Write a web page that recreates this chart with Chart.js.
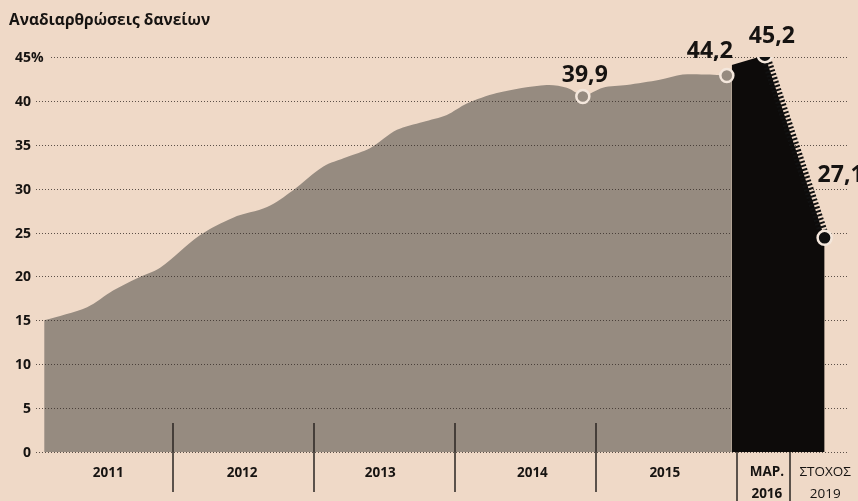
<!DOCTYPE html>
<html>
<head>
<meta charset="utf-8">
<script src="https://cdn.jsdelivr.net/npm/chart.js@4.4.1/dist/chart.umd.min.js"></script>
<style>
  html, body { margin: 0; padding: 0; background: #efd9c7; }
  #wrap { width: 858px; height: 501px; position: relative; }
</style>
</head>
<body>
<div id="wrap"><canvas id="chart" width="858" height="501"></canvas></div>
<script>
// restructured loans, %
var periods = [2011.085, 2011.39, 2011.574, 2011.745, 2011.908, 2012.19, 2012.426, 2012.667, 2012.85,
               2013.064, 2013.234, 2013.397, 2013.589, 2013.773, 2013.943, 2014.085, 2014.298, 2014.652,
               2014.794, 2014.865, 2014.908, 2015.05, 2015.22, 2015.454, 2015.617, 2015.809, 2015.929, 2015.965];
var shares = [15.0, 16.5, 18.4, 19.8, 21.0, 24.7, 26.7, 27.9, 29.8,
              32.5, 33.6, 34.6, 36.7, 37.6, 38.4, 39.7, 40.9, 41.8,
              41.5, 40.9, 40.5, 41.5, 41.8, 42.4, 43.0, 43.0, 42.9, 43.2];

// MAP. 2016 -> target 2019
var targetX = [2015.965, 2016.2, 2016.624];
var targetY = [44.1, 45.2, 24.4];
var slopeX = [2016.2, 2016.624];
var slopeY = [45.2, 24.4];

// highlighted points
var markerX = [2014.908, 2015.93, 2016.2, 2016.624];
var markerY = [40.5, 42.9, 45.2, 24.4];
var markerText = ['39,9', '44,2', '45,2', '27,1'];
var markerDark = [false, false, true, true];

var yTicks = [0, 5, 10, 15, 20, 25, 30, 35, 40, 45];
var yearLabels = ['2011', '2012', '2013', '2014', '2015'];
var yearMid = [2011.54, 2012.49, 2013.47, 2014.55, 2015.49];
var yearBreaks = [2012, 2013, 2014, 2015];
var lastBreaks = [2016.0, 2016.38];
var lastLabels = [['ΜΑΡ.', '2016'], ['ΣΤΟΧΟΣ', '2019']];
var lastMid = [2016.2, 2016.6];

var GRAY = '#968b80';
var FONT = '"Open Sans", "DejaVu Sans", sans-serif';

function pts(xs, ys) {
  var out = [];
  for (var i = 0; i < xs.length; i++) out.push({x: xs[i], y: ys[i]});
  return out;
}

// label offsets in px relative to marker (x shift, baseline shift, align)
var labelPos = [[2, -15, 'center'], [-17, -17, 'center'], [7, -12, 'center'], [-7, -56, 'left']];

var decorPlugin = {
  id: 'decor',
  afterDatasetDraw: function(chart, args) {
    // dotted grid over the grey area, under the black one
    if (args.index !== 3) return;
    var ctx = chart.ctx, ys = chart.scales.y;
    ctx.save();
    ctx.strokeStyle = 'rgba(55,45,40,0.8)';
    ctx.lineWidth = 1;
    ctx.setLineDash([1, 2]);
    yTicks.forEach(function(v) {
      var y = Math.round(ys.getPixelForValue(v)) + 0.5;
      ctx.beginPath();
      ctx.moveTo(v === 45 ? 51 : 36, y);
      ctx.lineTo(848, y);
      ctx.stroke();
    });
    ctx.restore();
  },
  afterDraw: function(chart) {
    var ctx = chart.ctx, xs = chart.scales.x, ys = chart.scales.y;
    ctx.save();
    ctx.fillStyle = '#161311';
    ctx.textBaseline = 'alphabetic';

    // title
    ctx.font = 'bold 15.5px ' + FONT;
    ctx.textAlign = 'left';
    ctx.fillText('Αναδιαρθρώσεις δανείων', 9, 25);

    // y labels
    ctx.font = 'bold 14px ' + FONT;
    yTicks.forEach(function(v) {
      var y = ys.getPixelForValue(v) + 5;
      ctx.textAlign = 'right';
      ctx.fillText(String(v), 31, y);
      if (v === 45) {
        ctx.textAlign = 'left';
        ctx.fillText('%', 31, y);
      }
    });

    // year separators
    ctx.strokeStyle = '#2a2522';
    ctx.lineWidth = 1.5;
    yearBreaks.forEach(function(v) {
      var x = Math.round(xs.getPixelForValue(v));
      ctx.beginPath();
      ctx.moveTo(x, 423);
      ctx.lineTo(x, 492);
      ctx.stroke();
    });
    lastBreaks.forEach(function(v) {
      var x = Math.round(xs.getPixelForValue(v));
      ctx.beginPath();
      ctx.moveTo(x, 452);
      ctx.lineTo(x, 501);
      ctx.stroke();
    });

    // year labels
    ctx.textAlign = 'center';
    ctx.font = 'bold 13.5px ' + FONT;
    yearLabels.forEach(function(t, i) {
      ctx.fillText(t, xs.getPixelForValue(yearMid[i]), 477);
    });
    lastLabels.forEach(function(t, i) {
      ctx.font = (i === 0 ? 'bold ' : '') + '13.5px ' + FONT;
      var x = xs.getPixelForValue(lastMid[i]);
      ctx.fillText(t[0], x + (i === 0 ? 2 : 4), 476);
      ctx.fillText(t[1], x + (i === 0 ? 2 : 4), 498);
    });

    // value labels
    ctx.font = 'bold 23px ' + FONT;
    markerText.forEach(function(t, i) {
      var p = labelPos[i];
      ctx.textAlign = p[2];
      ctx.fillText(t, xs.getPixelForValue(markerX[i]) + p[0], ys.getPixelForValue(markerY[i]) + p[1]);
    });
    ctx.restore();
  }
};

var ctx = document.getElementById('chart');
var myChart = new Chart(ctx, {
  type: 'line',
  data: {
    datasets: [
      {
        label: 'markers',
        data: pts(markerX, markerY),
        showLine: false,
        pointRadius: markerDark.map(function(d) { return d ? 7 : 6.5; }),
        pointBackgroundColor: markerDark.map(function(d) { return d ? '#111' : GRAY; }),
        pointBorderColor: '#f4e7dc',
        pointBorderWidth: 2.5
      },
      {
        label: 'slope',
        data: pts(slopeX, slopeY),
        fill: false,
        borderColor: '#111',
        borderWidth: 10,
        borderCapStyle: 'butt',
        borderDash: [2, 2],
        pointRadius: 0
      },
      {
        label: 'target',
        data: pts(targetX, targetY),
        fill: 'origin',
        backgroundColor: '#0d0b0a',
        borderWidth: 0,
        pointRadius: 0
      },
      {
        label: 'share',
        data: pts(periods, shares),
        fill: 'origin',
        backgroundColor: GRAY,
        borderWidth: 0,
        pointRadius: 0,
        tension: 0.3
      }
    ]
  },
  options: {
    responsive: false,
    animation: false,
    events: [],
    layout: { padding: { left: 35, right: 10, top: 57, bottom: 49 } },
    plugins: { legend: { display: false }, tooltip: { enabled: false } },
    scales: {
      x: { type: 'linear', min: 2011.02, max: 2016.79, display: false },
      y: { min: 0, max: 45, display: false }
    }
  },
  plugins: [decorPlugin]
});
</script>
</body>
</html>
